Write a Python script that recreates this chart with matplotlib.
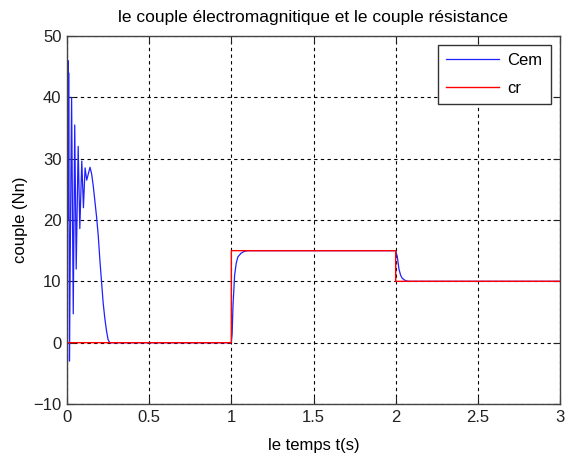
import matplotlib
matplotlib.use("Agg")
import matplotlib.pyplot as plt

plt.rcParams['font.family'] = ['Liberation Sans', 'DejaVu Sans']

# Electromagnetic torque (Cem) samples
cem_t = [0.000, 0.002, 0.004, 0.006, 0.008, 0.010, 0.012, 0.015, 0.020, 0.028,
         0.038, 0.047, 0.056, 0.068, 0.078, 0.090, 0.100, 0.110, 0.120, 0.140,
         0.150, 0.160, 0.170, 0.180, 0.190, 0.200, 0.210, 0.220, 0.230, 0.240,
         0.250, 0.260, 1.000, 1.005, 1.010, 1.020, 1.030, 1.040, 1.060, 1.080,
         1.100, 2.000, 2.010, 2.020, 2.030, 2.040, 2.060, 2.080, 3.000]
cem_v = [0.0, 47.0, 25.0, 46.0, 20.0, 44.0, 28.0, -3.0, 15.0, 40.0,
         4.7, 35.5, 12.0, 32.0, 18.6, 29.6, 22.0, 28.5, 26.5, 28.6,
         27.5, 25.5, 23.0, 20.5, 17.5, 13.5, 10.0, 6.5, 4.0, 2.0,
         0.5, 0.0, 0.0, 1.5, 6.0, 11.0, 13.0, 14.0, 14.6, 14.9,
         15.0, 15.0, 14.0, 12.0, 11.0, 10.5, 10.1, 10.0, 10.0]

# Load torque (cr)
cr_t = [0.0, 1.0, 1.0, 2.0, 2.0, 3.0]
cr_v = [0.0, 0.0, 15.0, 15.0, 10.0, 10.0]

xticks = [0, 0.5, 1, 1.5, 2, 2.5, 3]
xticklabels = ['0', '0.5', '1', '1.5', '2', '2.5', '3']
yticks = [-10, 0, 10, 20, 30, 40, 50]

fig = plt.figure(figsize=(5.65, 4.59), dpi=100, facecolor='white')
ax = fig.add_axes([67/565, 1 - 404/459, (560 - 67)/565, (404 - 36)/459])

ax.plot(cem_t, cem_v, color='#2020ff', lw=0.9, label='Cem', zorder=3, snap=False)
ax.plot(cr_t, cr_v, color='#ff0000', lw=1.0, label='cr', zorder=4, snap=False)

ax.set_xlim(0, 3)
ax.set_ylim(-10, 50)
ax.set_xticks(xticks)
ax.set_xticklabels(xticklabels)
ax.set_yticks(yticks)

ax.grid(True, color='black', linestyle=(0, (3, 3)), linewidth=0.8)
ax.tick_params(direction='in', top=True, right=True, length=5, width=0.8,
               labelsize=12, colors='#222222', pad=4)
for s in ax.spines.values():
    s.set_color('#444444')
    s.set_linewidth(1.0)
    s.set_zorder(5)

ax.set_title('le couple électromagnitique et le couple résistance', fontsize=12.5, pad=10)
ax.set_xlabel('le temps t(s)', fontsize=12, labelpad=10)
ax.set_ylabel('couple (Nn)', fontsize=12, labelpad=4)

leg = ax.legend(loc='upper right', fontsize=12, fancybox=False, framealpha=1,
                edgecolor='#333333', handlelength=3.2, handletextpad=0.5,
                borderpad=0.5, labelspacing=0.75, borderaxespad=0,
                bbox_to_anchor=((551 - 67) / 493, (404 - 45) / 368))
leg.get_frame().set_linewidth(1.0)
leg.set_zorder(6)

fig.savefig('out.png', dpi=100, facecolor='white')
